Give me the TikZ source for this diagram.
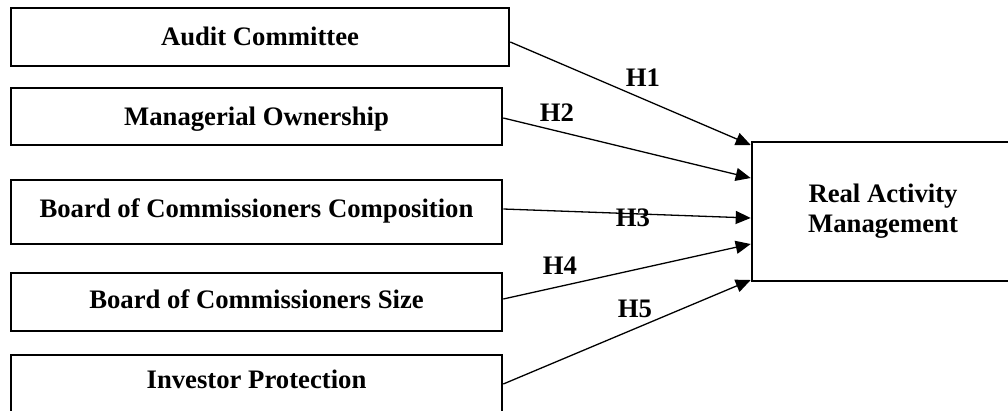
\documentclass[tikz,border=0pt]{standalone}
\usepackage{fontspec}
\setmainfont{Liberation Serif}
\usetikzlibrary{arrows.meta}
\begin{document}
\begin{tikzpicture}[x=1pt,y=-1pt,
  box/.style={draw, line width=2.6pt, rectangle, inner sep=0pt, align=center,
    font=\fontsize{26.7}{30}\selectfont\bfseries, text height=18pt},
  arr/.style={line width=1.3pt, -{Triangle[length=15pt,width=13pt]}},
  hyp/.style={font=\fontsize{26.7}{30}\selectfont\bfseries, inner sep=0pt}]
\path[use as bounding box, clip] (0,0) rectangle (1008,410);
\fill[white] (0,0) rectangle (1008,410);
\node[box, minimum width=498pt, minimum height=58pt, text depth=1pt] (b1) at (260,37) {Audit Committee};
\node[box, minimum width=491pt, minimum height=57pt, text depth=1pt] (b2) at (256.5,116.5) {Managerial Ownership};
\node[box, minimum width=491pt, minimum height=64pt, text depth=7pt] (b3) at (256.5,212) {Board of Commissioners Composition};
\node[box, minimum width=491pt, minimum height=58pt, text depth=5pt] (b4) at (256.5,302) {Board of Commissioners Size};
\node[box, minimum width=491pt, minimum height=60pt, text depth=11pt] (b5) at (256.5,385) {Investor Protection};
\node[box, minimum width=262pt, minimum height=139pt, text height=, text depth=] (t) at (883,211.5) {Real Activity\\Management};
\draw[arr] ([yshift=-5pt]b1.east) -- ([yshift=66.5pt]t.west);
\draw[arr] ([yshift=-1.5pt]b2.east) -- ([yshift=33.5pt]t.west);
\draw[arr] ([yshift=3pt]b3.east) -- ([yshift=-6.5pt]t.west);
\draw[arr] ([yshift=3pt]b4.east) -- ([yshift=-32.5pt]t.west);
\draw[arr] ([yshift=1pt]b5.east) -- ([yshift=-68.5pt]t.west);
\node[hyp] (h1) at (643,78) {H1};
\node[hyp] (h2) at (557,113) {H2};
\node[hyp] (h3) at (633,218) {H3};
\node[hyp] (h4) at (560,266) {H4};
\node[hyp] (h5) at (635,309) {H5};
\end{tikzpicture}
\end{document}
